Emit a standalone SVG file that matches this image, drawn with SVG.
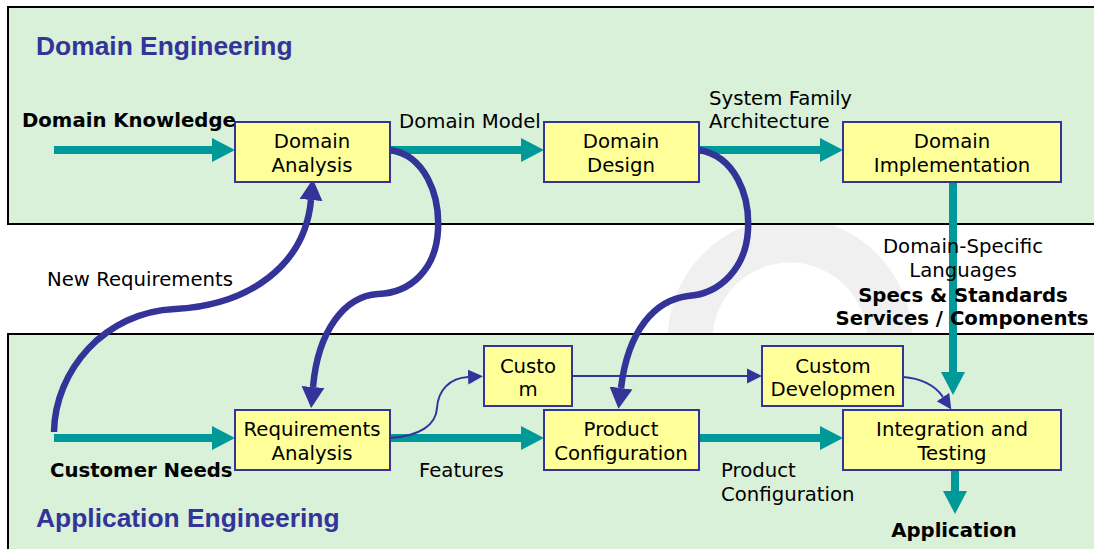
<svg xmlns="http://www.w3.org/2000/svg" width="1094" height="549" viewBox="0 0 1094 549">
<style>
.panel{fill:#d9f0d9;stroke:#000;stroke-width:2}
.title{font-family:"Liberation Sans",Arial,sans-serif;font-weight:bold;font-size:26.4px;fill:#333399}
.box{fill:#ffff99;stroke:#333399;stroke-width:2}
.t{font-family:"DejaVu Sans",Verdana,sans-serif;font-size:19.7px;fill:#000}
.c{text-anchor:middle}
.b{font-weight:bold}
.teal{fill:none;stroke:#009999;stroke-width:8}
.blue{fill:none;stroke:#333399;stroke-width:6.5}
.thin{fill:none;stroke:#333399;stroke-width:2}
</style>
<defs>
<marker id="ta" markerUnits="userSpaceOnUse" viewBox="0 -12 23 24" refX="0" refY="0" markerWidth="23" markerHeight="24" orient="auto"><path d="M0,-12 L23,0 L0,12 z" fill="#009999"/></marker>
<marker id="ba" markerUnits="userSpaceOnUse" viewBox="0 -12 21 24" refX="0" refY="0" markerWidth="21" markerHeight="24" orient="auto"><path d="M0,-11.5 L21,0 L0,11.5 z" fill="#333399"/></marker>
<marker id="sa" markerUnits="userSpaceOnUse" viewBox="0 -8 15 16" refX="0" refY="0" markerWidth="15" markerHeight="16" orient="auto"><path d="M0,-7.5 L15,0 L0,7.5 z" fill="#333399"/></marker>
<clipPath id="band"><rect x="0" y="225" width="1094" height="108"/></clipPath>
</defs>
<rect width="1094" height="549" fill="#fff"/>
<g clip-path="url(#band)"><circle cx="790" cy="340" r="100" fill="none" stroke="#f0f0f0" stroke-width="45"/></g>
<rect class="panel" x="8" y="7" width="1096" height="217"/>
<rect class="panel" x="8" y="334" width="1096" height="230"/>
<text class="title" x="36" y="55">Domain Engineering</text>
<text class="title" x="36" y="527">Application Engineering</text>

<g id="connectors">
<path class="teal" d="M54,150 L212,150" marker-end="url(#ta)"/>
<path class="teal" d="M390,150 L521,150" marker-end="url(#ta)"/>
<path class="teal" d="M699,150 L820,150" marker-end="url(#ta)"/>
<path class="teal" d="M953,182 L953,372" marker-end="url(#ta)"/>
<path class="teal" d="M54,438 L212,438" marker-end="url(#ta)"/>
<path class="teal" d="M390,438 L521,438" marker-end="url(#ta)"/>
<path class="teal" d="M699,438 L820,438" marker-end="url(#ta)"/>
<path class="teal" d="M955,470 L955,491" marker-end="url(#ta)"/>
<path class="blue" d="M390,150 C425,155 440,195 438,230 C436,270 410,293 378,294 C345,296 318,330 313,387" marker-end="url(#ba)"/>
<path class="blue" d="M699,150 C735,156 750,195 748,230 C746,268 720,294 688,296 C655,300 628,330 621,388" marker-end="url(#ba)"/>
<path class="blue" d="M54,432 C55,370 105,312 175,309 C250,305 305,265 311,200" marker-end="url(#ba)"/>
<path class="thin" d="M390,438 C420,436 436,425 437,408 C438,390 450,378 468,377" marker-end="url(#sa)"/>
<path class="thin" d="M572,376 L747,376" marker-end="url(#sa)"/>
<path class="thin" d="M903,377 C920,378 935,385 943,397" marker-end="url(#sa)"/>
</g>

<g id="domain-analysis"><rect class="box" x="235" y="122" width="155" height="60"/><text class="t c" x="312" y="148">Domain</text><text class="t c" x="312" y="172">Analysis</text></g>
<g id="domain-design"><rect class="box" x="544" y="122" width="155" height="60"/><text class="t c" x="621" y="148">Domain</text><text class="t c" x="621" y="172">Design</text></g>
<g id="domain-implementation"><rect class="box" x="843" y="122" width="218" height="60"/><text class="t c" x="952" y="148">Domain</text><text class="t c" x="952" y="172">Implementation</text></g>
<g id="requirements-analysis"><rect class="box" x="235" y="410" width="155" height="60"/><text class="t c" x="312" y="436">Requirements</text><text class="t c" x="312" y="460">Analysis</text></g>
<g id="product-configuration"><rect class="box" x="544" y="410" width="155" height="60"/><text class="t c" x="621" y="436">Product</text><text class="t c" x="621" y="460">Configuration</text></g>
<g id="integration-testing"><rect class="box" x="843" y="410" width="218" height="60"/><text class="t c" x="952" y="436">Integration and</text><text class="t c" x="952" y="460">Testing</text></g>
<g id="custom"><rect class="box" x="484" y="346" width="88" height="60"/><text class="t c" x="528" y="373">Custo</text><text class="t c" x="528" y="396">m</text></g>
<g id="custom-development"><rect class="box" x="762" y="346" width="141" height="60"/><text class="t c" x="833" y="373">Custom</text><text class="t c" x="833" y="396">Developmen</text></g>

<g id="labels">
<text class="t b" x="22" y="127">Domain Knowledge</text>
<text class="t" x="399" y="128">Domain Model</text>
<text class="t" x="709" y="105">System Family</text>
<text class="t" x="709" y="128">Architecture</text>
<text class="t c" x="963" y="253">Domain-Specific</text>
<text class="t c" x="963" y="277">Languages</text>
<text class="t c b" x="963" y="302">Specs &amp; Standards</text>
<text class="t c b" x="962" y="325">Services / Components</text>
<text class="t" x="47" y="286">New Requirements</text>
<text class="t b" x="50" y="477">Customer Needs</text>
<text class="t" x="419" y="477">Features</text>
<text class="t" x="721" y="477">Product</text>
<text class="t" x="721" y="501">Configuration</text>
<text class="t c b" x="954" y="537">Application</text>
</g>
</svg>
